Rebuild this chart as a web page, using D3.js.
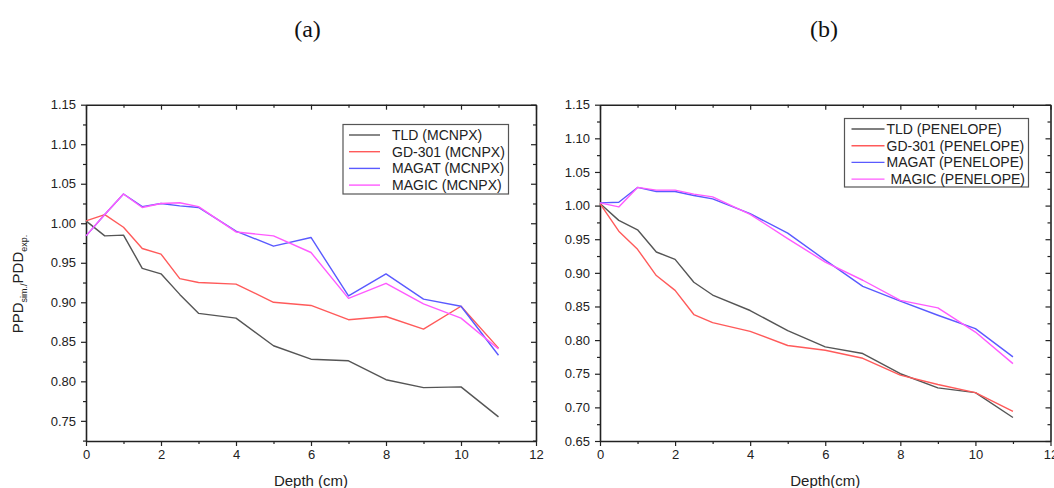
<!DOCTYPE html>
<html>
<head>
<meta charset="utf-8">
<script src="https://cdn.jsdelivr.net/npm/d3@7"></script>
<style>
  body { margin: 0; background: #fff; }
  svg { display: block; }
  .tick text { font-family: "Liberation Sans", Arial, sans-serif; font-size: 13px; fill: #222; }
  .domain { stroke: #222; stroke-width: 1.6; }
  .tick line { stroke: #222; stroke-width: 1.2; }
</style>
</head>
<body>
<div id="chart"></div>
<script>
// depth points (cm), shared by both panels
const depth = [0, 0.5, 1, 1.5, 2, 2.5, 3, 4, 5, 6, 7, 8, 9, 10, 11];

// panel (a) MCNPX
const tldMcnpx    = [1.003, 0.984, 0.985, 0.943, 0.936, 0.910, 0.886, 0.880, 0.845, 0.828, 0.826, 0.802, 0.792, 0.793, 0.755];
const gd301Mcnpx  = [1.003, 1.011, 0.995, 0.968, 0.961, 0.930, 0.925, 0.923, 0.900, 0.896, 0.878, 0.882, 0.866, 0.895, 0.842];
const magatMcnpx  = [0.984, 1.011, 1.037, 1.021, 1.025, 1.022, 1.020, 0.990, 0.971, 0.982, 0.908, 0.936, 0.904, 0.895, 0.833];
const magicMcnpx  = [0.984, 1.011, 1.037, 1.020, 1.025, 1.026, 1.021, 0.989, 0.984, 0.963, 0.905, 0.924, 0.898, 0.880, 0.841];

// panel (b) PENELOPE
const tldPen      = [1.003, 0.978, 0.964, 0.931, 0.920, 0.886, 0.867, 0.844, 0.814, 0.790, 0.780, 0.750, 0.729, 0.722, 0.685];
const gd301Pen    = [1.003, 0.962, 0.935, 0.896, 0.874, 0.838, 0.826, 0.813, 0.792, 0.785, 0.773, 0.748, 0.734, 0.722, 0.694];
const magatPen    = [1.004, 1.005, 1.027, 1.021, 1.021, 1.015, 1.010, 0.988, 0.959, 0.919, 0.880, 0.858, 0.837, 0.817, 0.775];
const magicPen    = [1.004, 0.998, 1.027, 1.023, 1.023, 1.017, 1.013, 0.987, 0.951, 0.916, 0.889, 0.859, 0.848, 0.812, 0.765];

const namesMcnpx = ["TLD (MCNPX)", "GD-301 (MCNPX)", "MAGAT (MCNPX)", "MAGIC (MCNPX)"];
const namesPen   = ["TLD (PENELOPE)", "GD-301 (PENELOPE)", "MAGAT (PENELOPE)", " MAGIC (PENELOPE)"];
const colors = ["#555555", "#ff5a5a", "#5a5aff", "#ff5aff"];

const xTicks = [0, 2, 4, 6, 8, 10, 12];
const xMinor = [1, 3, 5, 7, 9, 11];
const yTicksA = [0.75, 0.80, 0.85, 0.90, 0.95, 1.00, 1.05, 1.10, 1.15];
const yTicksB = [0.65, 0.70, 0.75, 0.80, 0.85, 0.90, 0.95, 1.00, 1.05, 1.10, 1.15];
const yMinorAll = [0.675, 0.725, 0.775, 0.825, 0.875, 0.925, 0.975, 1.025, 1.075, 1.125];

const WIDTH = 1054;
const HEIGHT = 488;
const FONT = '"Liberation Sans", Arial, sans-serif';

let svg = d3.select("#chart")
    .append("svg")
    .attr("width", WIDTH)
    .attr("height", HEIGHT);

drawPanel({
    left: 86, right: 536, top: 104.7, bottom: 441,
    yDomain: [0.7245, 1.15], yTicks: yTicksA,
    series: [tldMcnpx, gd301Mcnpx, magatMcnpx, magicMcnpx],
    names: namesMcnpx,
    title: "(a)", titleX: 307.5,
    xLabel: "Depth (cm)",
    legend: { x: 343, y: 124.5, w: 165.5, h: 69.5, lineX1: 6, lineX2: 37, textX: 49, rowY: 10.5, rowStep: 16.7 },
    yLabel: true
});

drawPanel({
    left: 600, right: 1050.5, top: 104.7, bottom: 441,
    yDomain: [0.65, 1.15], yTicks: yTicksB,
    series: [tldPen, gd301Pen, magatPen, magicPen],
    names: namesPen,
    title: "(b)", titleX: 824,
    xLabel: "Depth(cm)",
    legend: { x: 844.5, y: 118.5, w: 184, h: 68.5, lineX1: 7, lineX2: 40, textX: 42, rowY: 10.5, rowStep: 16.7 },
    yLabel: false
});

function drawPanel(cfg) {
    let g = svg.append("g");

    let xScale = d3.scaleLinear().domain([0, 12]).range([cfg.left, cfg.right]);
    let yScale = d3.scaleLinear().domain(cfg.yDomain).range([cfg.bottom, cfg.top]);

    let yMinor = yMinorAll.filter(v => v >= cfg.yDomain[0]);

    // bottom axis, ticks outward
    g.append("g")
        .attr("transform", "translate(0," + cfg.bottom + ")")
        .call(d3.axisBottom(xScale).tickValues(xTicks).tickSize(5).tickSizeOuter(0).tickPadding(4).tickFormat(d3.format("d")));
    g.append("g")
        .attr("transform", "translate(0," + cfg.bottom + ")")
        .call(d3.axisBottom(xScale).tickValues(xMinor).tickSize(3).tickSizeOuter(0).tickFormat(""))
        .select(".domain").remove();

    // top axis, ticks inward
    g.append("g")
        .attr("transform", "translate(0," + cfg.top + ")")
        .call(d3.axisTop(xScale).tickValues(xTicks).tickSize(-5).tickSizeOuter(0).tickFormat(""));
    g.append("g")
        .attr("transform", "translate(0," + cfg.top + ")")
        .call(d3.axisTop(xScale).tickValues(xMinor).tickSize(-3).tickSizeOuter(0).tickFormat(""))
        .select(".domain").remove();

    // left axis, ticks outward
    g.append("g")
        .attr("transform", "translate(" + cfg.left + ",0)")
        .call(d3.axisLeft(yScale).tickValues(cfg.yTicks).tickSize(5).tickSizeOuter(0).tickPadding(5).tickFormat(d3.format(".2f")));
    g.append("g")
        .attr("transform", "translate(" + cfg.left + ",0)")
        .call(d3.axisLeft(yScale).tickValues(yMinor).tickSize(3).tickSizeOuter(0).tickFormat(""))
        .select(".domain").remove();

    // right axis, ticks inward
    g.append("g")
        .attr("transform", "translate(" + cfg.right + ",0)")
        .call(d3.axisRight(yScale).tickValues(cfg.yTicks).tickSize(-5).tickSizeOuter(0).tickFormat(""));
    g.append("g")
        .attr("transform", "translate(" + cfg.right + ",0)")
        .call(d3.axisRight(yScale).tickValues(yMinor).tickSize(-3).tickSizeOuter(0).tickFormat(""))
        .select(".domain").remove();

    // lines
    let line = d3.line()
        .x((d, i) => xScale(depth[i]))
        .y(d => yScale(d));

    cfg.series.forEach((values, i) => {
        g.append("path")
            .datum(values)
            .attr("d", line)
            .attr("fill", "none")
            .attr("stroke", colors[i])
            .attr("stroke-width", 1.4)
            .attr("stroke-linejoin", "round");
    });

    // legend
    let lg = cfg.legend;
    let legend = g.append("g").attr("transform", "translate(" + lg.x + "," + lg.y + ")");
    legend.append("rect")
        .attr("width", lg.w)
        .attr("height", lg.h)
        .attr("fill", "#fff")
        .attr("stroke", "#555")
        .attr("stroke-width", 1.2);
    cfg.names.forEach((name, i) => {
        let yy = lg.rowY + i * lg.rowStep;
        legend.append("line")
            .attr("x1", lg.lineX1).attr("x2", lg.lineX2)
            .attr("y1", yy).attr("y2", yy)
            .attr("stroke", colors[i])
            .attr("stroke-width", 1.4);
        legend.append("text")
            .attr("x", lg.textX)
            .attr("y", yy + 5)
            .attr("font-family", FONT)
            .attr("font-size", 14)
            .attr("fill", "#222")
            .style("white-space", "pre")
            .text(name);
    });

    // panel title
    svg.append("text")
        .attr("x", cfg.titleX)
        .attr("y", 37)
        .attr("text-anchor", "middle")
        .attr("font-family", '"Liberation Serif", "Times New Roman", serif')
        .attr("font-size", 24)
        .attr("fill", "#111")
        .text(cfg.title);

    // x label
    svg.append("text")
        .attr("x", (cfg.left + cfg.right) / 2)
        .attr("y", 486)
        .attr("text-anchor", "middle")
        .attr("font-family", FONT)
        .attr("font-size", 15)
        .attr("fill", "#222")
        .text(cfg.xLabel);

    // y label (only left panel)
    if (cfg.yLabel) {
        let t = svg.append("text")
            .attr("transform", "translate(23,284)rotate(-90)")
            .attr("text-anchor", "middle")
            .attr("font-family", FONT)
            .attr("font-size", 15)
            .attr("fill", "#222");
        t.append("tspan").text("PPD");
        t.append("tspan").attr("font-size", 9).attr("dy", 4).text("sim./");
        t.append("tspan").attr("dy", -4).text("PDD");
        t.append("tspan").attr("font-size", 9).attr("dy", 4).text("exp.");
    }
}
</script>
</body>
</html>
